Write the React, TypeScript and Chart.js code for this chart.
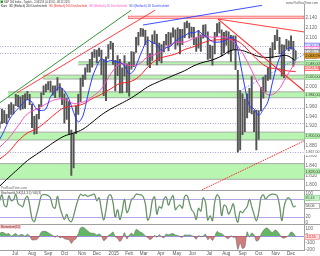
import React, { useEffect, useRef } from "react";
import { Chart, registerables } from "chart.js";

Chart.register(...registerables);

const FONT = "'Liberation Sans', Arial, sans-serif";

// ---------- x axis (trading-day index, 0 = 2 Jun 2014) ----------
const monthStarts = [21, 43, 64, 85, 108, 127, 149, 169, 188, 210, 231, 251, 273, 295, 316, 337, 359, 379];
const monthLabels = ["Jul", "Aug", "Sep", "Oct", "Nov", "Dec", "2015", "Feb", "Mar", "Apr", "May", "Jun", "Jul", "Aug", "Sep", "Oct", "Nov", "Dec"];

// ---------- y ticks ----------
const priceTicks = [1800, 1820, 1840, 1860, 1880, 1900, 1920, 1940, 1960, 1980, 2000, 2020, 2040, 2060, 2080, 2100, 2120, 2140];
const stochTicks = [0, 20, 50, 80, 100];
const momTicks = [-200, -100, 0, 100];

// ---------- price: 3-day bars (low / high) ----------
const barLow = [
  1916, 1925, 1927, 1925, 1937, 1944, 1945, 1962, 1960, 1953,
  1955, 1956, 1974, 1964, 1917, 1904, 1905, 1935, 1960, 1984,
  1990, 1994, 1990, 1983, 1978, 1993, 1979, 1964, 1926, 1934,
  1905, 1820, 1835, 1905, 1944, 1970, 2001, 2015, 2030, 2030,
  2040, 2060, 2049, 2062, 2025, 1982, 1972, 2058, 2077, 2046,
  1992, 2023, 1988, 1988, 2022, 1989, 1981, 2036, 2041, 2070,
  2085, 2103, 2103, 2086, 2044, 2039, 2054, 2088, 2045, 2053,
  2049, 2071, 2085, 2073, 2085, 2101, 2077, 2085, 2067, 2086,
  2100, 2120, 2099, 2101, 2086, 2072, 2079, 2072, 2099, 2101,
  2056, 2058, 2044, 2067, 2102, 2110, 2063, 2069, 2085, 2067,
  2052, 2076, 2035, 1867, 1872, 1903, 1909, 1937, 1948, 1945,
  1909, 1872, 1893, 1951, 1977, 1990, 2013, 2016, 2059, 2076,
  2094, 2067, 2022, 2019, 2078, 2073, 2077, 2042, 2056,
];
const barHigh = [
  1929, 1955, 1952, 1944, 1964, 1968, 1964, 1985, 1983, 1980,
  1983, 1986, 1991, 1985, 1965, 1940, 1944, 1964, 1988, 2002,
  2006, 2011, 2012, 2002, 2002, 2019, 2007, 1997, 1986, 1977,
  1970, 1912, 1905, 1961, 1985, 2018, 2024, 2039, 2046, 2056,
  2071, 2076, 2075, 2079, 2075, 2056, 2061, 2086, 2093, 2089,
  2054, 2064, 2056, 2039, 2064, 2047, 2050, 2072, 2071, 2101,
  2111, 2119, 2118, 2115, 2102, 2068, 2106, 2114, 2107, 2089,
  2086, 2093, 2107, 2111, 2110, 2120, 2116, 2120, 2117, 2117,
  2131, 2134, 2130, 2122, 2121, 2100, 2115, 2106, 2126, 2127,
  2112, 2085, 2083, 2111, 2129, 2132, 2116, 2111, 2114, 2112,
  2105, 2104, 2104, 2034, 1993, 1986, 1975, 1986, 1997, 2021,
  1952, 1953, 1952, 1999, 2020, 2024, 2039, 2079, 2090, 2105,
  2116, 2101, 2086, 2085, 2097, 2094, 2104, 2093, 2073,
];

// ---------- moving averages ----------
// 20-day: every 6 trading days
const ma20 = [
  1893, 1911, 1932, 1946, 1956, 1966, 1974, 1969, 1955, 1952,
  1955, 1980, 1991, 1999, 1992, 1975, 1948, 1929, 1941, 1980,
  2018, 2042, 2057, 2051, 2054, 2051, 2050, 2043, 2027, 2033,
  2055, 2078, 2095, 2090, 2086, 2074, 2080, 2083, 2093, 2100,
  2104, 2110, 2110, 2113, 2106, 2100, 2092, 2091, 2092, 2096,
  2101, 2093, 2050, 2000, 1962, 1955, 1942, 1954, 1970, 2010,
  2045, 2068, 2076, 2080, 2074,
];
// 50 / 100 / 200-day: every 12 trading days
const ma50 = [1877, 1896, 1921, 1945, 1955, 1965, 1974, 1975, 1966, 1969, 1980, 1996, 2026, 2047, 2044, 2046, 2061, 2067, 2080, 2091, 2091, 2099, 2104, 2101, 2102, 2096, 2076, 2043, 2005, 1984, 1991, 2021, 2051];
const ma100 = [1853, 1868, 1890, 1906, 1915, 1929, 1945, 1958, 1961, 1965, 1976, 1985, 1996, 2007, 2010, 2020, 2040, 2056, 2062, 2067, 2076, 2082, 2090, 2095, 2096, 2097, 2090, 2072, 2053, 2040, 2037, 2033, 2031];
const ma200 = [1798, 1816, 1833, 1850, 1863, 1876, 1889, 1900, 1906, 1914, 1928, 1943, 1955, 1965, 1975, 1987, 2000, 2009, 2017, 2025, 2033, 2043, 2050, 2055, 2063, 2074, 2075, 2069, 2062, 2060, 2062, 2064, 2053];

// ---------- stochastic %K (per 3-day bar) ----------
const stochK = [
  75, 95, 60, 55, 92, 75, 78, 97, 65, 60,
  55, 80, 90, 60, 15, 5, 30, 60, 92, 96,
  95, 92, 85, 55, 50, 90, 55, 30, 12, 30,
  10, 5, 25, 55, 80, 97, 92, 95, 90, 92,
  95, 97, 75, 85, 45, 10, 45, 90, 95, 70,
  20, 45, 12, 40, 80, 35, 50, 80, 85, 97,
  96, 95, 90, 65, 10, 25, 75, 88, 30, 55,
  50, 80, 88, 60, 80, 92, 45, 55, 60, 50,
  90, 93, 70, 45, 35, 12, 50, 40, 85, 70,
  10, 25, 8, 70, 95, 85, 25, 60, 55, 30,
  45, 65, 25, 3, 40, 35, 45, 55, 80, 55,
  30, 8, 35, 85, 95, 80, 90, 95, 97, 96,
  92, 60, 8, 55, 80, 85, 75, 55, 58,
];

// ---------- momentum(12) (per 3-day bar) ----------
const momentum = [
  36, 53, 43, 27, 35, -1, 18, 37, 4, 19,
  20, -2, 25, 2, -56, -53, -52, -15, 56, 68,
  64, 47, 26, 7, -16, 9, -25, -13, -38, -47,
  -54, -105, -60, -37, 33, 117, 126, 105, 77, 47,
  41, 36, 15, 30, 6, -66, -41, 7, 29, 57,
  -10, -34, -77, -37, 49, -42, 9, 40, 17, 95,
  78, 53, 37, 1, -19, -49, -30, 10, -17, 20,
  -8, -26, 30, 19, 30, 35, 14, 9, -9, -18,
  17, 12, 16, 8, -9, -46, 5, -10, -4, 28,
  -52, -20, -63, -8, 67, 43, 33, 9, -26, -36,
  4, -17, -19, -191, -96, -178, -158, 60, -10, 44,
  18, -71, -55, 22, 76, 112, 110, 72, 51, 85,
  69, 27, -21, -29, -13, 9, 57, 41, -14,
];

// ---------- support / resistance zones ----------
const bandLow = [2045, 2016, 1978, 1892, 1812];
const bandHigh = [2051, 2024, 1990, 1908, 1844];
const bandStart = [103, 57, 12, 0, 0];
const resistZone = [168, 2139, 2144]; // start, low, high
const dottedLevels = [2083, 2069, 1958, 1927, 1867];

// ---------- trend lines [x1, p1, x2, p2] ----------
const trendGreen = [1.5, 1968, 171.5, 2156];
const trendRedUp = [23.6, 1988, 202.6, 2156];
const trendBlueTop = [187, 2126, 341.4, 2166];
const trendRedDownA = [284.3, 2138, 397, 2111.6];
const trendRedDownB = [284.3, 2138, 397, 1990];
const trendRedUpB = [254.5, 1783.7, 397, 1891];
const trendBlueDash = [312.8, 1992, 397, 2067];

// ---------- right-axis value boxes ----------
const boxValues = [2084, 2077, 2071, 2063.59, 2048, 2038];
const boxTexts = ["2.083,65", "2.075,55", "2.069,57", "2.063,59", "2.045,86", "2.031,84"];
const stochBoxValues = [85, 58];
const stochBoxTexts = ["85,43", "58,06"];
const momBoxValue = -13.5;
const momBoxText = "-13,55";

// ---------- texts ----------
const titleText = "S&P 500 Index - Täglich - 2.063,59 (-0,65%) - 08.12.2015";
const legendTexts = ["Kurs", "GD (Einfach) 200 Durchschnitt", "GD (Einfach) 100 Durchschnitt", "GD (Einfach) 50 Durchschnitt", "GD (Einfach) 20 Durchschnitt"];
const siteText = "www.ProRealTime.com";
const stochTitle = "Stochastik %K(14,3,5) %D(3)";
const momTitle = "Momentum(12)";

// ---------- styles ----------
const C_MA20 = "#2b3bff";
const C_MA50 = "#ff4fc4";
const C_MA100 = "#ff2020";
const C_MA200 = "#000000";
const legendColors = ["#000", "#222", C_MA100, C_MA50, C_MA20];
const legendWidths = [6, 38, 38, 38, 40];
const boxStyles = [
  { bg: "#ffffff", fg: C_MA20, bd: C_MA20 },
  { bg: "#ffffff", fg: C_MA50, bd: C_MA50 },
  { bg: "#ffffff", fg: "#333", bd: "#555" },
  { bg: "#e0a030", fg: "#000", bd: "#b07010" },
  { bg: "#b9f3b0", fg: "#226622", bd: "#6a6" },
  { bg: "#ffd6d6", fg: C_MA100, bd: C_MA100 },
];

const fmtDE = (v: number, dec = 0) => {
  const s = Math.abs(v).toFixed(dec);
  const [i, d] = s.split(".");
  const w = i.replace(/\B(?=(\d{3})+(?!\d))/g, ".");
  return (v < 0 ? "-" : "") + w + (d ? "," + d : "");
};

const seg = (ctx: CanvasRenderingContext2D, xs: any, ys: any, s: number[], color: string, width = 1, dash: number[] = []) => {
  ctx.strokeStyle = color;
  ctx.lineWidth = width;
  ctx.setLineDash(dash);
  ctx.beginPath();
  ctx.moveTo(xs.getPixelForValue(s[0]), ys.getPixelForValue(s[1]));
  ctx.lineTo(xs.getPixelForValue(s[2]), ys.getPixelForValue(s[3]));
  ctx.stroke();
  ctx.setLineDash([]);
};

const valueBox = (ctx: CanvasRenderingContext2D, left: number, yPix: number, text: string, st: { bg: string; fg: string; bd: string }) => {
  ctx.fillStyle = st.bg;
  ctx.fillRect(left, yPix - 2.5, 320 - left, 5);
  ctx.strokeStyle = st.bd;
  ctx.lineWidth = 0.6;
  ctx.strokeRect(left + 0.3, yPix - 2.5, 320 - left - 0.6, 5);
  ctx.fillStyle = st.fg;
  ctx.font = `3.6px ${FONT}`;
  ctx.textAlign = "left";
  ctx.textBaseline = "middle";
  ctx.fillText(text, left + 1, yPix + 0.2, 320 - left - 1.5);
};

const overlay = {
  id: "overlay",
  beforeDatasetsDraw(chart: any) {
    const { ctx, chartArea, scales } = chart;
    const { x, y, yS, yM } = scales;
    const L = chartArea.left, R = chartArea.right;
    ctx.save();
    ctx.beginPath();
    ctx.rect(L, y.top, R - L, y.bottom - y.top);
    ctx.clip();
    {
      const x0 = Math.max(L, x.getPixelForValue(resistZone[0]));
      const t = y.getPixelForValue(resistZone[2]);
      const b = y.getPixelForValue(resistZone[1]);
      ctx.fillStyle = "#ffc4c4";
      ctx.fillRect(x0, t, R - x0, b - t);
      ctx.strokeStyle = "#ff6a6a";
      ctx.lineWidth = 0.8;
      ctx.strokeRect(x0, t, R - x0, b - t);
    }
    for (let i = 0; i < bandLow.length; i++) {
      const x0 = Math.max(L, x.getPixelForValue(bandStart[i]));
      const t = y.getPixelForValue(bandHigh[i]);
      const b = y.getPixelForValue(bandLow[i]);
      ctx.fillStyle = "#b7f5b0";
      ctx.fillRect(x0, t, R - x0, b - t);
      ctx.strokeStyle = "#a4a4a4";
      ctx.lineWidth = 0.9;
      ctx.beginPath();
      ctx.moveTo(x0, t); ctx.lineTo(R, t);
      ctx.moveTo(x0, b); ctx.lineTo(R, b);
      ctx.stroke();
    }
    for (const lv of dottedLevels) {
      const yy = Math.round(y.getPixelForValue(lv)) + 0.5;
      ctx.strokeStyle = "#a9a3d8";
      ctx.lineWidth = 1;
      ctx.setLineDash([1, 1.5]);
      ctx.beginPath(); ctx.moveTo(L, yy); ctx.lineTo(R, yy); ctx.stroke();
    }
    ctx.setLineDash([]);
    ctx.restore();

    ctx.save();
    ctx.strokeStyle = "#a89be6";
    ctx.lineWidth = 0.9;
    for (const lv of [80, 20]) {
      const yy = Math.round(yS.getPixelForValue(lv)) + 0.5;
      ctx.beginPath(); ctx.moveTo(L, yy); ctx.lineTo(R, yy); ctx.stroke();
    }
    const y0 = Math.round(yM.getPixelForValue(0)) + 0.5;
    ctx.strokeStyle = "#8f86e0";
    ctx.beginPath(); ctx.moveTo(L, y0); ctx.lineTo(R, y0); ctx.stroke();
    ctx.restore();
  },
  afterDatasetsDraw(chart: any) {
    const { ctx, chartArea, scales } = chart;
    const { x, y } = scales;
    const L = chartArea.left, R = chartArea.right;
    ctx.save();
    ctx.beginPath();
    ctx.rect(L, y.top, R - L, y.bottom - y.top);
    ctx.clip();
    seg(ctx, x, y, trendGreen, "#1f8a1f", 0.9);
    seg(ctx, x, y, trendRedUp, "#ff2a2a", 0.9);
    seg(ctx, x, y, trendBlueTop, "#2b3bff", 0.9);
    seg(ctx, x, y, trendRedDownA, "#ff2a2a", 0.9);
    seg(ctx, x, y, trendRedDownB, "#ff2a2a", 1.1);
    seg(ctx, x, y, trendRedUpB, "#ff2a2a", 1, [1.5, 1]);
    seg(ctx, x, y, trendBlueDash, "#4a6aff", 0.8, [1.5, 1.5]);
    ctx.restore();
  },
  afterDraw(chart: any) {
    const { ctx, scales } = chart;
    const { y, yS, yM } = scales;
    ctx.save();
    ctx.strokeStyle = "#a0a0a0";
    ctx.lineWidth = 1;
    for (const b of [y.bottom, yS.bottom]) {
      const yy = Math.round(b) + 0.5;
      ctx.beginPath(); ctx.moveTo(0, yy); ctx.lineTo(320, yy); ctx.stroke();
    }
    ctx.fillStyle = "#2a9a2a";
    ctx.fillRect(0.5, 0.5, 2.5, 2.5);
    ctx.font = `3.4px ${FONT}`;
    ctx.textBaseline = "middle";
    ctx.textAlign = "left";
    ctx.fillStyle = "#333";
    ctx.fillText(titleText, 4, 2, 66);
    ctx.textAlign = "right";
    ctx.fillStyle = "#555";
    ctx.fillText(siteText, 318, 3, 32);
    ctx.textAlign = "left";
    let lx = 1;
    legendTexts.forEach((t, i) => {
      ctx.fillStyle = legendColors[i];
      ctx.fillText(t, lx, 6.3, legendWidths[i]);
      lx += legendWidths[i] + 2;
    });
    ctx.fillStyle = "#666";
    ctx.fillText("ProRealTime.com", 1, y.bottom - 2.5, 26);
    ctx.fillStyle = "#333";
    ctx.fillText(stochTitle, 1, yS.top + 2.5, 40);
    ctx.fillStyle = "#f7cccc";
    ctx.fillRect(0, yM.top + 0.5, 21, 4);
    ctx.fillStyle = "#7a2020";
    ctx.fillText(momTitle, 1, yM.top + 2.6, 19);
    const left = y.left + 0.5;
    boxValues.forEach((v, i) => valueBox(ctx, left, y.getPixelForValue(v), boxTexts[i], boxStyles[i]));
    for (let i = 0; i < bandLow.length; i++) {
      const mid = (bandLow[i] + bandHigh[i]) / 2;
      valueBox(ctx, left, y.getPixelForValue(mid), fmtDE(mid, 2), { bg: "#b9f3b0", fg: "#333", bd: "#8c8" });
    }
    valueBox(ctx, left, y.getPixelForValue(dottedLevels[4]), fmtDE(dottedLevels[4], 2), { bg: "#fff", fg: "#555", bd: "#fff" });
    valueBox(ctx, left, yS.getPixelForValue(stochBoxValues[0]), stochBoxTexts[0], { bg: "#c8f0c8", fg: "#2a6a2a", bd: "#8c8" });
    valueBox(ctx, left, yS.getPixelForValue(stochBoxValues[1]), stochBoxTexts[1], { bg: "#fff", fg: "#333", bd: "#888" });
    valueBox(ctx, left, yM.getPixelForValue(momBoxValue), momBoxText, { bg: "#ffdede", fg: "#cc2222", bd: "#e88" });
    ctx.restore();
  },
};

export default function App() {
  const ref = useRef<HTMLCanvasElement>(null);
  useEffect(() => {
    document.body.style.margin = "0";
    const canvas = ref.current!;
    const maPts = (arr: number[], step: number) => arr.map((v, j) => ({ x: step * j + 1, y: v }));
    const barPts = (g: number) => 3 * g + 1;
    const lineBase = { type: "line" as const, pointRadius: 0, borderWidth: 1, tension: 0.4, xAxisID: "x", fill: false };
    const tickFont = { size: 4.6, family: FONT };
    const chart = new Chart(canvas, {
      type: "line",
      data: {
        datasets: [
          { ...lineBase, data: maPts(ma20, 6), borderColor: C_MA20, tension: 0.35, yAxisID: "y" },
          { ...lineBase, data: maPts(ma50, 12), borderColor: C_MA50, yAxisID: "y" },
          { ...lineBase, data: maPts(ma100, 12), borderColor: C_MA100, yAxisID: "y" },
          { ...lineBase, data: maPts(ma200, 12), borderColor: C_MA200, yAxisID: "y" },
          {
            type: "bar" as const,
            data: barLow.map((l, g) => ({ x: barPts(g), y: [l, barHigh[g]] })),
            backgroundColor: "#555555",
            barThickness: 1.3,
            xAxisID: "x",
            yAxisID: "y",
          },
          { ...lineBase, data: stochK.map((v, g) => ({ x: barPts(g), y: v })), borderColor: "#4a4a4a", borderWidth: 0.6, tension: 0.35, yAxisID: "yS" },
          { ...lineBase, data: stochK.map((v, g) => ({ x: barPts(g), y: v })), borderColor: "#9fd89f", borderWidth: 1.4, tension: 0.35, yAxisID: "yS" },
          {
            ...lineBase,
            data: momentum.map((v, g) => ({ x: barPts(g), y: v })),
            borderColor: "#6a6a6a",
            borderWidth: 0.6,
            tension: 0.3,
            yAxisID: "yM",
            fill: { target: { value: 0 }, above: "rgba(60,165,60,0.8)", below: "rgba(195,80,80,0.75)" },
          },
        ] as any,
      },
      options: {
        responsive: false,
        animation: false,
        devicePixelRatio: 1,
        events: [],
        layout: { padding: { top: 3, left: 0, right: 0, bottom: 0 } },
        plugins: { legend: { display: false }, tooltip: { enabled: false } },
        scales: {
          x: {
            type: "linear",
            min: 1.5,
            max: 395.8,
            offset: false,
            grid: { display: false, drawTicks: false, offset: false },
            border: { display: true, color: "#a0a0a0" },
            ticks: {
              font: tickFont,
              color: "#555",
              padding: 1,
              maxRotation: 0,
              autoSkip: false,
              callback: (_v: any, i: number) => monthLabels[i] ?? "",
            },
            afterBuildTicks: (s: any) => { s.ticks = monthStarts.map((v) => ({ value: v })); },
            afterFit: (s: any) => { s.height = 6; },
          },
          y: {
            type: "linear",
            position: "right",
            stack: "panels",
            stackWeight: 187,
            weight: 1,
            min: 1789.6,
            max: 2168.2,
            grid: { display: false, drawTicks: false },
            border: { display: true, color: "#a0a0a0" },
            ticks: { font: tickFont, color: "#666", padding: 1.5, autoSkip: false, callback: (v: any) => fmtDE(Number(v)) },
            afterBuildTicks: (s: any) => { s.ticks = priceTicks.map((v) => ({ value: v })); },
            afterFit: (s: any) => { s.width = 16; },
          },
          yS: {
            type: "linear",
            position: "right",
            stack: "panels",
            stackWeight: 34,
            weight: 2,
            min: -3.3,
            max: 110,
            grid: { display: false, drawTicks: false },
            border: { display: true, color: "#a0a0a0" },
            ticks: { font: tickFont, color: "#666", padding: 1.5, autoSkip: false },
            afterBuildTicks: (s: any) => { s.ticks = stochTicks.map((v) => ({ value: v })); },
            afterFit: (s: any) => { s.width = 16; },
          },
          yM: {
            type: "linear",
            position: "right",
            stack: "panels",
            stackWeight: 26,
            weight: 3,
            min: -200,
            max: 171,
            grid: { display: false, drawTicks: false },
            border: { display: true, color: "#a0a0a0" },
            ticks: { font: tickFont, color: "#666", padding: 1.5, autoSkip: false },
            afterBuildTicks: (s: any) => { s.ticks = momTicks.map((v) => ({ value: v })); },
            afterFit: (s: any) => { s.width = 16; },
          },
        },
      } as any,
      plugins: [overlay],
    });
    return () => chart.destroy();
  }, []);
  return (
    <div style={{ width: 320, height: 256, position: "relative", background: "#fff" }}>
      <canvas ref={ref} width={320} height={256} style={{ display: "block", width: 320, height: 256 }} />
    </div>
  );
}
